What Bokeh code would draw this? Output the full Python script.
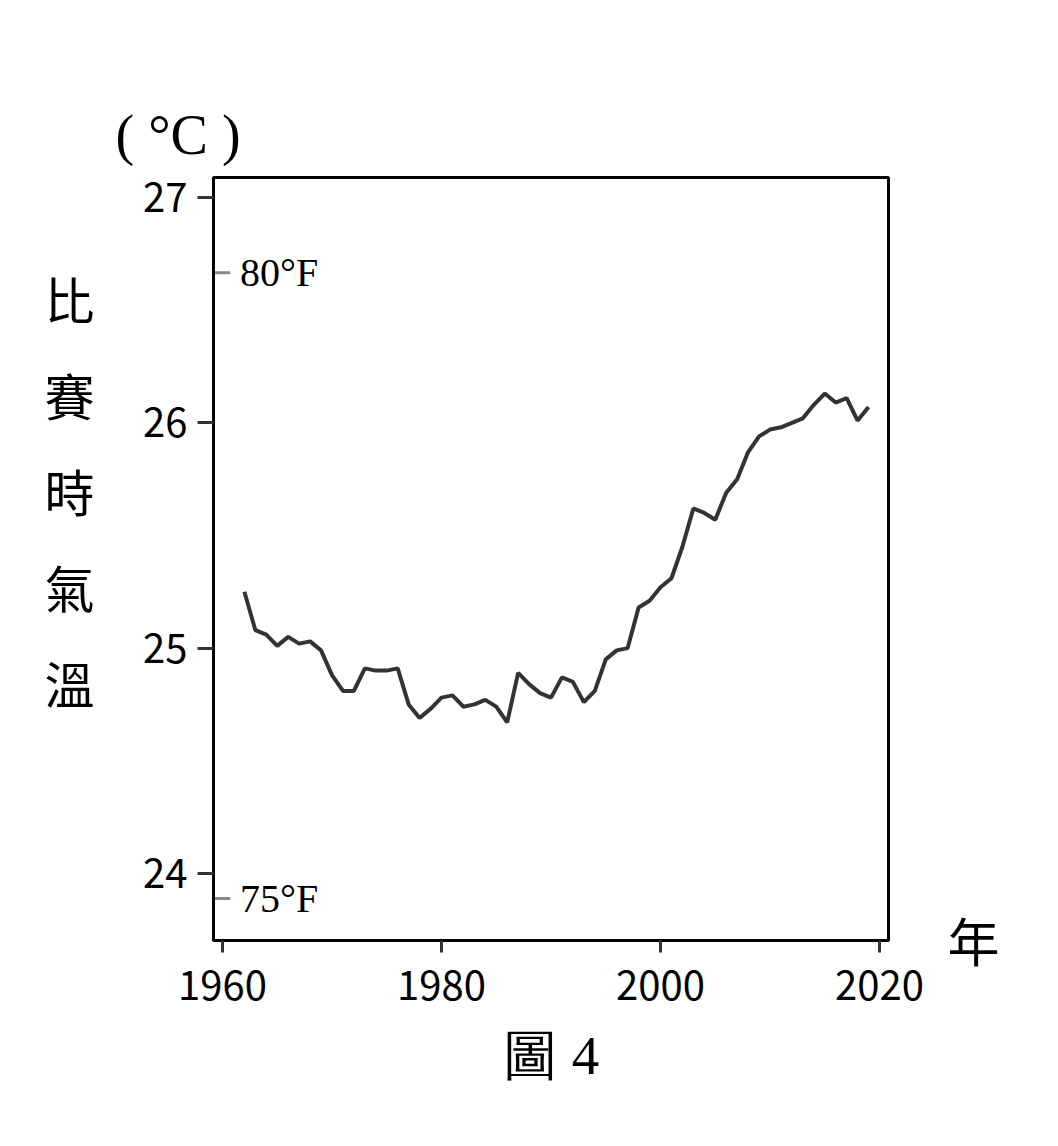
from bokeh.plotting import figure
from bokeh.models import Range1d, FixedTicker, LinearAxis, Title
from bokeh.core.properties import value
from bokeh.embed import file_html
from bokeh.resources import INLINE

# datos (temperatura media durante el partido, en grados C)
anios = list(range(1962, 2020))
temperatura = [25.25, 25.08, 25.06, 25.01, 25.05, 25.02, 25.03, 24.99, 24.88, 24.81,
               24.81, 24.91, 24.90, 24.90, 24.91, 24.75, 24.69, 24.73, 24.78, 24.79,
               24.74, 24.75, 24.77, 24.74, 24.67, 24.89, 24.84, 24.80, 24.78, 24.87,
               24.85, 24.76, 24.81, 24.95, 24.99, 25.00, 25.18, 25.21, 25.27, 25.31,
               25.45, 25.62, 25.60, 25.57, 25.69, 25.75, 25.87, 25.94, 25.97, 25.98,
               26.00, 26.02, 26.08, 26.13, 26.09, 26.11, 26.01, 26.07]

ticks_x = [1960, 1980, 2000, 2020]
ticks_y = [24, 25, 26, 27]
ticks_f = [80, 75]
etiquetas_f = ["80°F", "75°F"]
titulo_y = ["比", "賽", "時", "氣", "溫"]

# conversion de F a C para las marcas grises
ticks_f_c = [(f - 32) * 5 / 9 for f in ticks_f]

p = figure(width=1042, height=1130, output_backend="svg", toolbar_location=None,
           x_range=Range1d(1959.18, 2020.82), y_range=Range1d(23.702, 27.089),
           min_border_left=213, min_border_right=154, min_border_top=177, min_border_bottom=190)
p.background_fill_color = "white"
p.border_fill_color = "white"
p.grid.visible = False
p.outline_line_color = "black"
p.outline_line_width = 3

# linea de temperatura
p.line(anios, temperatura, line_color="#333333", line_width=4)

# marcas de Fahrenheit dentro del area
p.segment(x0=[1959.18] * len(ticks_f_c), y0=ticks_f_c, x1=[1960.7] * len(ticks_f_c), y1=ticks_f_c,
          line_color="#888888", line_width=3)
p.text(x=[1961.6] * len(ticks_f_c), y=ticks_f_c, text=etiquetas_f,
       text_font=value("Liberation Serif"), text_font_size="40px",
       text_baseline="middle", text_align="left", text_color="black")

# ejes
for eje in (p.xaxis, p.yaxis):
    eje.axis_line_color = "black"
    eje.axis_line_width = 3
    eje.major_tick_line_color = "#333333"
    eje.major_tick_line_width = 3
    eje.major_tick_in = 0
    eje.minor_tick_line_color = None
    eje.major_label_text_font = "Noto Sans CJK TC"
    eje.major_label_text_font_size = "40px"
    eje.major_label_text_color = "black"
p.xaxis.ticker = FixedTicker(ticks=ticks_x)
p.yaxis.ticker = FixedTicker(ticks=ticks_y)
p.xaxis.major_tick_out = 12
p.yaxis.major_tick_out = 16
p.xaxis.major_label_standoff = 18
p.yaxis.major_label_standoff = 10

# titulo vertical del eje y, un caracter por linea
p.extra_y_ranges = {"titulo": Range1d(6.6875, -1.2604), "anio": Range1d(-0.001, 1)}
eje_titulo = LinearAxis(y_range_name="titulo", ticker=FixedTicker(ticks=list(range(len(titulo_y)))),
                        major_label_overrides={i: ch for i, ch in enumerate(titulo_y)})
eje_titulo.axis_line_color = None
eje_titulo.major_tick_line_color = None
eje_titulo.minor_tick_line_color = None
eje_titulo.major_label_text_font = "Noto Sans CJK TC"
eje_titulo.major_label_text_font_size = "50px"
eje_titulo.major_label_text_color = "black"
eje_titulo.major_label_standoff = 40
p.add_layout(eje_titulo, "left")

# titulo eje x ("年") a la derecha
eje_anio = LinearAxis(y_range_name="anio", ticker=FixedTicker(ticks=[0]),
                      major_label_overrides={0: "年"})
eje_anio.axis_line_color = None
eje_anio.major_tick_line_color = None
eje_anio.minor_tick_line_color = None
eje_anio.major_label_text_font = "Noto Sans CJK TC"
eje_anio.major_label_text_font_size = "52px"
eje_anio.major_label_text_color = "black"
eje_anio.major_label_standoff = 53
p.add_layout(eje_anio, "right")

# unidad arriba
p.add_layout(Title(text="( °C )", align="left", offset=-98, text_font="Liberation Serif",
                   text_font_size="56px", text_font_style="normal", text_color="black",
                   standoff=24), "above")

# leyenda de la figura
p.xaxis.axis_label = "圖 4"
p.xaxis.axis_label_text_font = "Liberation Serif"
p.xaxis.axis_label_text_font_size = "55px"
p.xaxis.axis_label_text_font_style = "normal"
p.xaxis.axis_label_text_color = "black"
p.xaxis.axis_label_standoff = 22

open("out.html", "w").write(file_html(p, INLINE))
